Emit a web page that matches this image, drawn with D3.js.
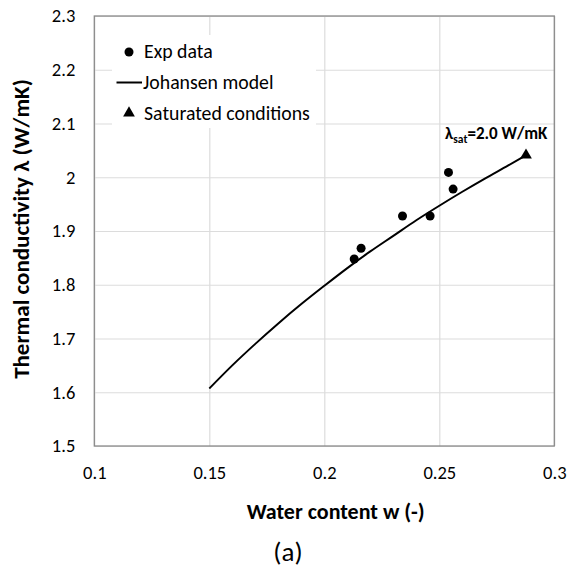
<!doctype html>
<html>
<head>
<script src="https://cdnjs.cloudflare.com/ajax/libs/d3/7.8.5/d3.min.js"></script>
<style>
body { margin: 0; background: #fff; }
svg text { font-family: Carlito, Calibri, Lato, sans-serif; fill: #000; }
.grid line { stroke: #dcdcdc; stroke-width: 1.2; }
.grid .domain { display: none; }
.axis .domain, .axis line { display: none; }
.axis text { font-size: 18.5px; }
</style>
</head>
<body>
<svg id="chart" width="567" height="568"></svg>
<script>
// tick labels
var xTicks = [0.1, 0.15, 0.2, 0.25, 0.3];
var xTickLabels = ["0.1", "0.15", "0.2", "0.25", "0.3"];
var yTicks = [1.5, 1.6, 1.7, 1.8, 1.9, 2.0, 2.1, 2.2, 2.3];
var yTickLabels = ["1.5", "1.6", "1.7", "1.8", "1.9", "2", "2.1", "2.2", "2.3"];

// Exp data
var expW = [0.213, 0.216, 0.234, 0.246, 0.254, 0.256];
var expL = [1.848, 1.868, 1.928, 1.928, 2.009, 1.978];

// Johansen model
var modelW = [0.15, 0.16, 0.17, 0.18, 0.19, 0.20, 0.21, 0.22, 0.23, 0.24, 0.25, 0.26, 0.27, 0.28, 0.2877];
var modelL = [1.607, 1.650, 1.690, 1.728, 1.764, 1.798, 1.831, 1.862, 1.891, 1.920, 1.947, 1.973, 1.998, 2.022, 2.041];

// Saturated conditions
var satW = [0.2877];
var satL = [2.041];

var svg = d3.select("#chart");
var pLeft = 94.3, pRight = 554.3, pTop = 16, pBottom = 446;

var x = d3.scaleLinear().domain([0.1, 0.3]).range([pLeft, pRight]);
var y = d3.scaleLinear().domain([1.5, 2.3]).range([pBottom, pTop]);

// gridlines
svg.append("g").attr("class", "grid")
  .attr("transform", "translate(0," + pBottom + ")")
  .call(d3.axisBottom(x).tickValues(xTicks).tickSize(-(pBottom - pTop)).tickFormat(""));
svg.append("g").attr("class", "grid")
  .attr("transform", "translate(" + pLeft + ",0)")
  .call(d3.axisLeft(y).tickValues(yTicks).tickSize(-(pRight - pLeft)).tickFormat(""));

// legend background hides the grid
svg.append("rect")
  .attr("x", 112).attr("y", 35).attr("width", 204).attr("height", 93)
  .attr("fill", "#fff");

// plot frame
svg.append("rect")
  .attr("x", pLeft).attr("y", pTop)
  .attr("width", pRight - pLeft).attr("height", pBottom - pTop)
  .attr("fill", "none").attr("stroke", "#8a8a8a").attr("stroke-width", 1.3);

// axes labels
svg.append("g").attr("class", "axis")
  .attr("transform", "translate(0," + pBottom + ")")
  .call(d3.axisBottom(x).tickValues(xTicks).tickSize(0).tickPadding(20)
    .tickFormat(function(d, i) { return xTickLabels[i]; }));
svg.append("g").attr("class", "axis")
  .attr("transform", "translate(" + pLeft + ",0)")
  .call(d3.axisLeft(y).tickValues(yTicks).tickSize(0).tickPadding(19)
    .tickFormat(function(d, i) { return yTickLabels[i]; }));

// model curve
var line = d3.line()
  .x(function(d, i) { return x(modelW[i]); })
  .y(function(d) { return y(d); })
  .curve(d3.curveMonotoneX);
svg.append("path")
  .attr("d", line(modelL))
  .attr("fill", "none").attr("stroke", "#000").attr("stroke-width", 2);

// exp points
svg.selectAll(".exp").data(expL).enter().append("circle")
  .attr("class", "exp")
  .attr("cx", function(d, i) { return x(expW[i]); })
  .attr("cy", function(d) { return y(d); })
  .attr("r", 4.5).attr("fill", "#000");

// saturated point
var tri = d3.symbol().type(d3.symbolTriangle).size(60);
svg.selectAll(".sat").data(satL).enter().append("path")
  .attr("class", "sat")
  .attr("transform", function(d, i) { return "translate(" + x(satW[i]) + "," + y(d) + ")"; })
  .attr("d", tri).attr("fill", "#000");

// lambda_sat annotation
var ann = svg.append("text")
  .attr("x", 445).attr("y", 139)
  .style("font-size", "17px").style("font-weight", "bold");
ann.append("tspan").text("λ");
ann.append("tspan").attr("dy", 4).style("font-size", "11.5px").text("sat");
ann.append("tspan").attr("dy", -4).text("=2.0 W/mK");

// legend
var lg = svg.append("g");
lg.append("circle").attr("cx", 129).attr("cy", 52).attr("r", 4.5).attr("fill", "#000");
lg.append("text").attr("x", 144).attr("y", 58).style("font-size", "19.8px").text("Exp data");
lg.append("line").attr("x1", 116.5).attr("x2", 142).attr("y1", 82.5).attr("y2", 82.5)
  .attr("stroke", "#000").attr("stroke-width", 2);
lg.append("text").attr("x", 143).attr("y", 89).style("font-size", "19.8px").text("Johansen model");
lg.append("path").attr("transform", "translate(129,113)").attr("d", tri).attr("fill", "#000");
lg.append("text").attr("x", 144).attr("y", 120).style("font-size", "19.8px").text("Saturated conditions");

// axis titles
svg.append("text")
  .attr("x", 335.7).attr("y", 519)
  .attr("text-anchor", "middle")
  .style("font-size", "22px").style("font-weight", "bold")
  .text("Water content w (-)");
svg.append("text")
  .attr("transform", "translate(29,229) rotate(-90)")
  .attr("text-anchor", "middle")
  .style("font-size", "23px").style("font-weight", "bold")
  .text("Thermal conductivity λ (W/mK)");

svg.append("text")
  .attr("x", 288).attr("y", 561)
  .attr("text-anchor", "middle")
  .style("font-size", "27px")
  .text("(a)");
</script>
</body>
</html>
